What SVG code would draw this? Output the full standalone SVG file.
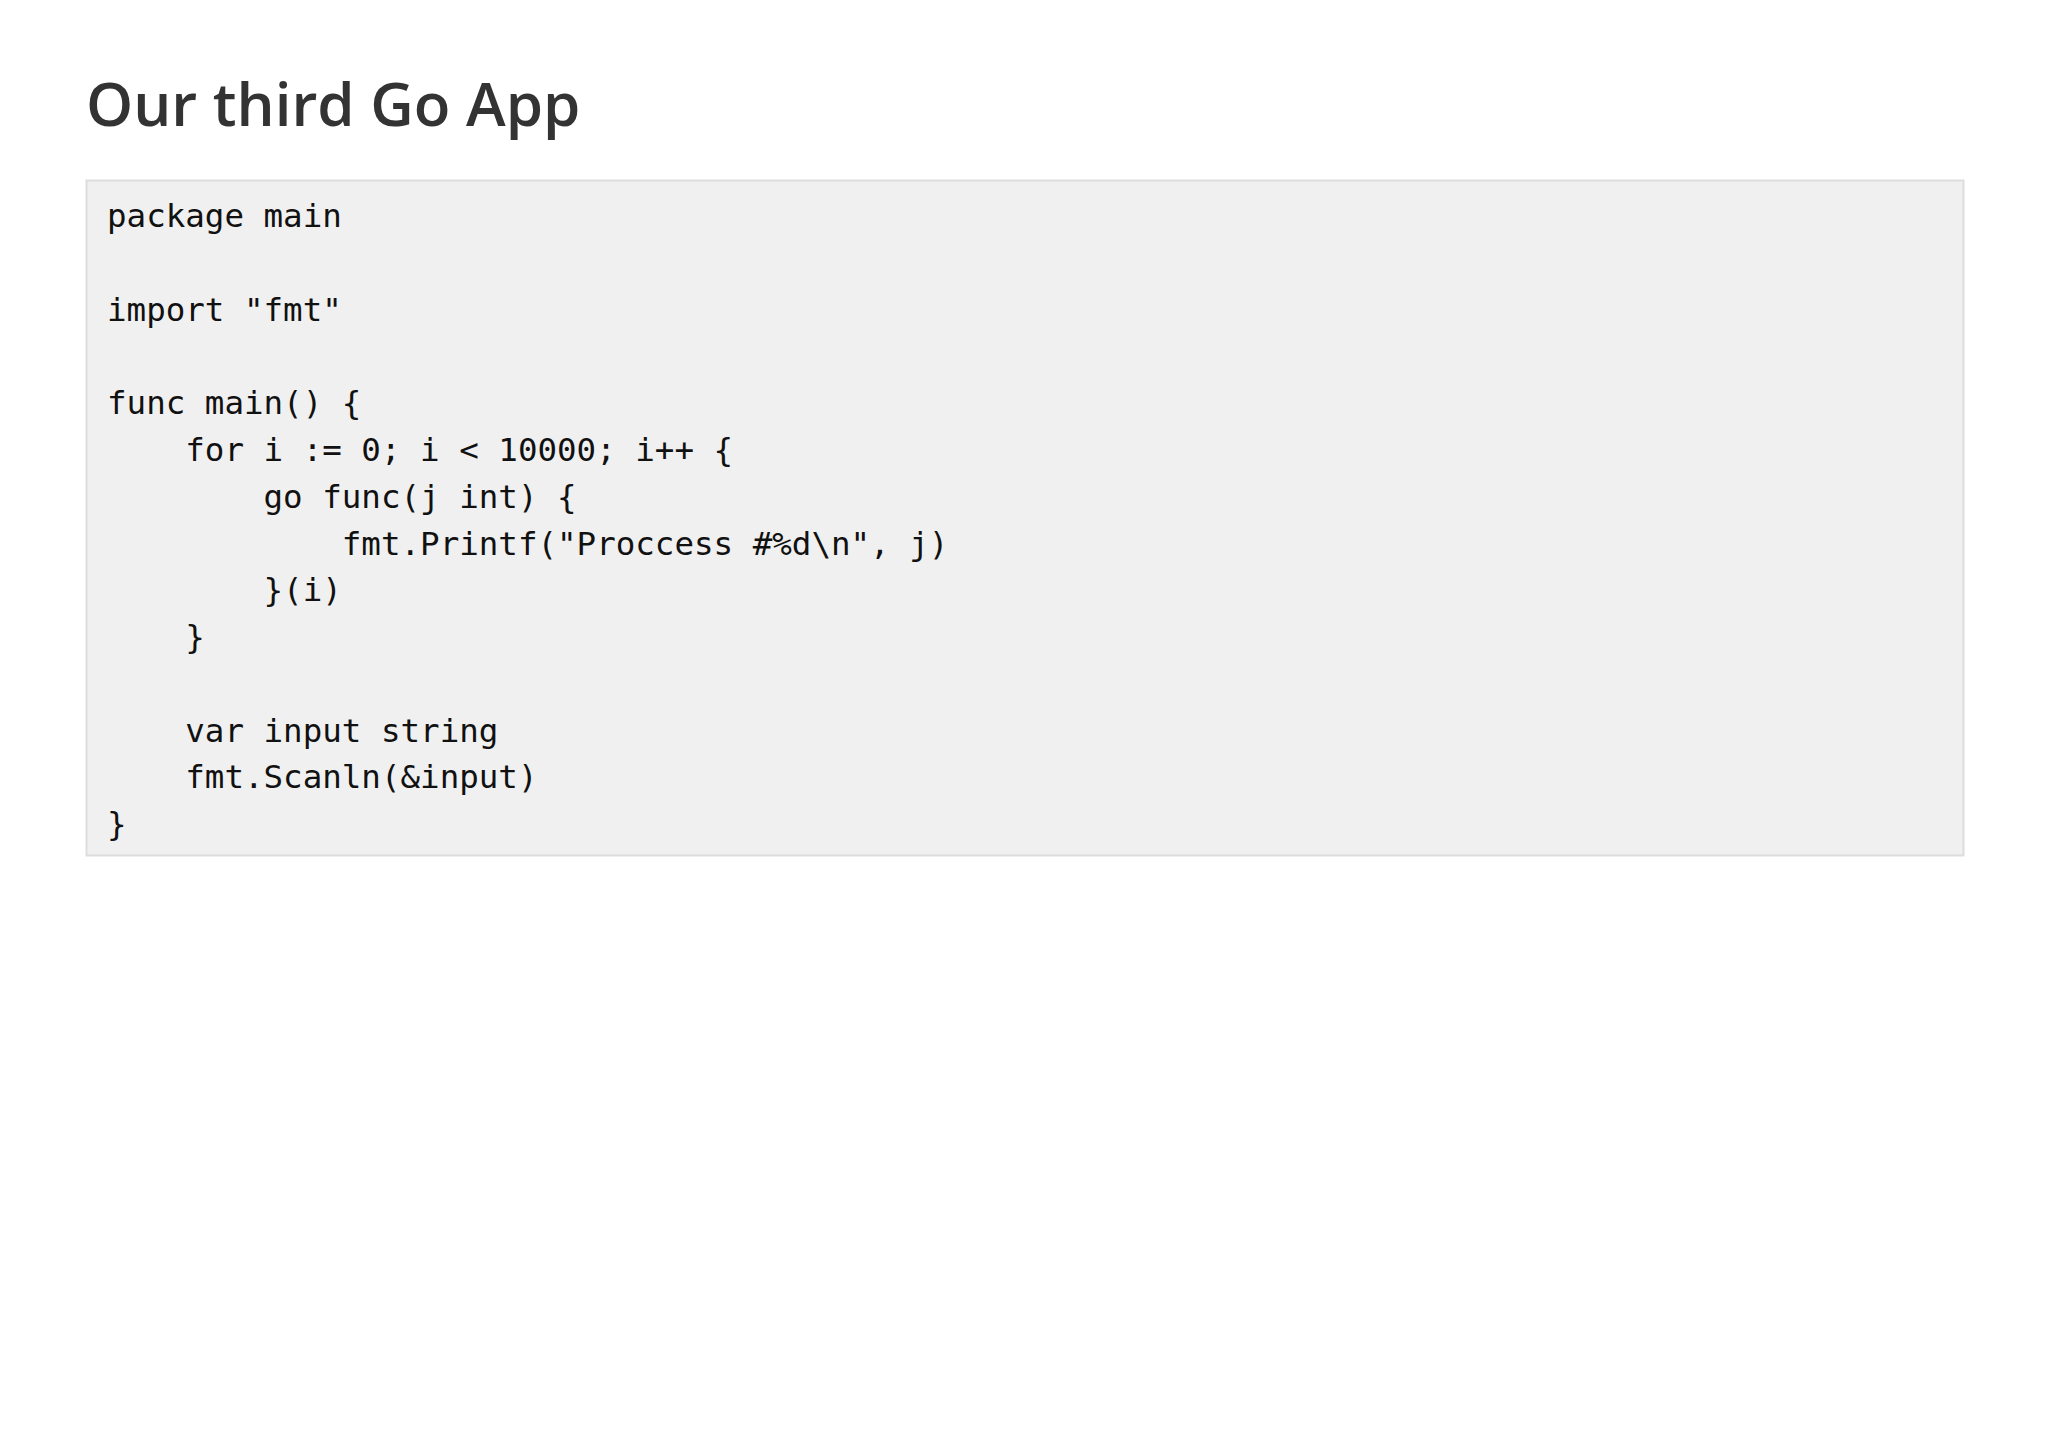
<svg xmlns="http://www.w3.org/2000/svg" width="2048" height="1447" viewBox="0 0 2048 1447">
<style>
.t{font-family:"Open Sans","Liberation Sans",sans-serif;font-weight:600;font-size:60px;fill:#333}
.c{font-family:"DejaVu Sans Mono","Liberation Mono",monospace;font-size:32.5px;fill:#111;white-space:pre}
</style>
<rect width="2048" height="1447" fill="#fff"/>
<g id="title"><text class="t" x="86" y="126">Our third Go App</text></g>
<g id="code">
<rect x="86.5" y="180.5" width="1877" height="675" fill="#f0f0f0" stroke="#ddd" stroke-width="2"/>
<text class="c" xml:space="preserve">
<tspan x="107" y="227">package main</tspan>
<tspan x="107" y="321">import "fmt"</tspan>
<tspan x="107" y="414">func main() {</tspan>
<tspan x="107" y="461">    for i := 0; i &lt; 10000; i++ {</tspan>
<tspan x="107" y="508">        go func(j int) {</tspan>
<tspan x="107" y="555">            fmt.Printf("Proccess #%d\n", j)</tspan>
<tspan x="107" y="601">        }(i)</tspan>
<tspan x="107" y="648">    }</tspan>
<tspan x="107" y="742">    var input string</tspan>
<tspan x="107" y="788">    fmt.Scanln(&amp;input)</tspan>
<tspan x="107" y="835">}</tspan>
</text>
</g>
</svg>
